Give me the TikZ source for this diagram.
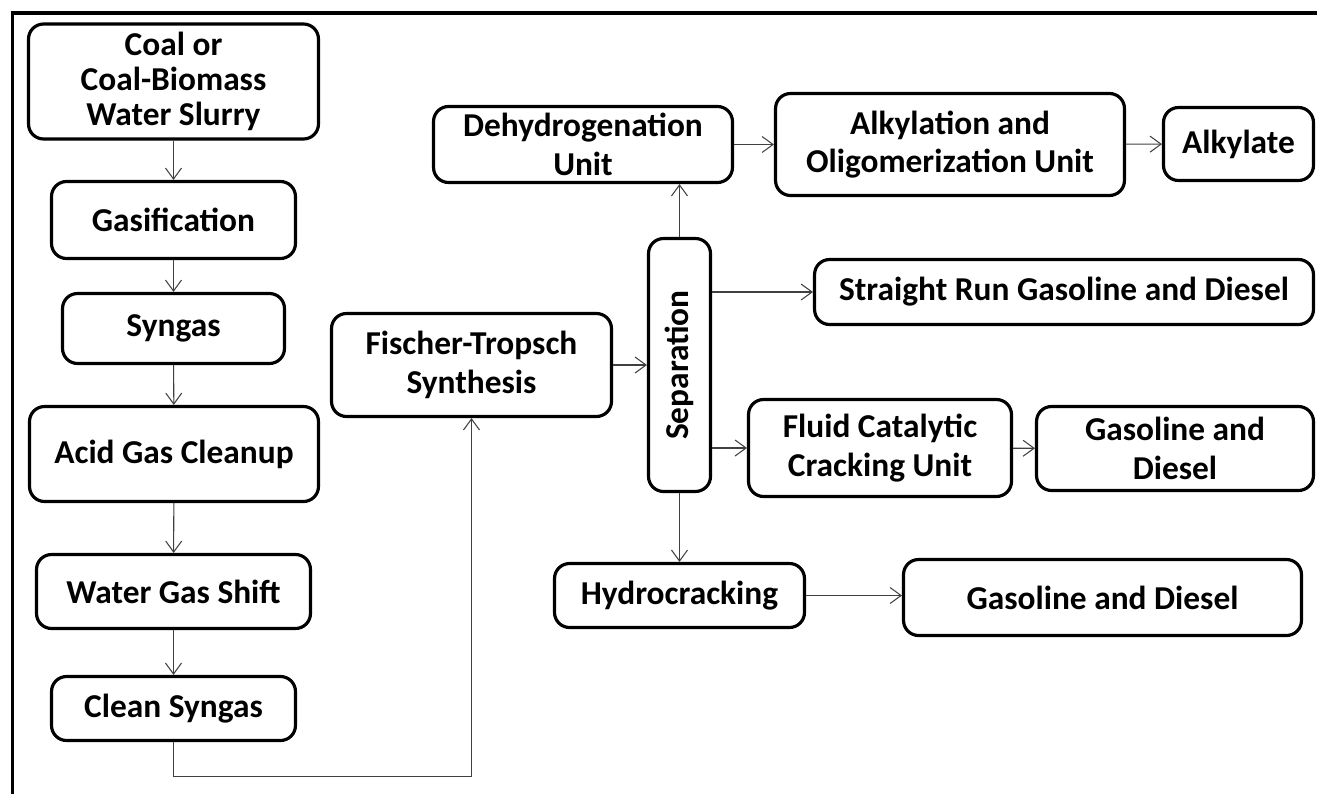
\documentclass[tikz,border=0pt]{standalone}
\usepackage{fontspec}
\setmainfont{Carlito}
\usetikzlibrary{arrows.meta}

\tikzset{
	box/.style={draw, line width=1.8pt, rounded corners=0.3cm, inner sep=0pt,
		align=center, font=\fontsize{19}{22}\selectfont\bfseries},
	flow/.style={->, line width=0.6pt, draw=black!75}
}

\begin{document}
\begin{tikzpicture}[>={Straight Barb[length=2.2mm,width=3.2mm]}, x=0.02cm, y=-0.02cm]
		\useasboundingbox (0,0) rectangle (1317,794);
		
		% Frame
		\draw[line width=2pt] (12.5,794) -- (12.5,13) -- (1317,13);
		
		% Nodes
		\node[box, minimum width=5.8cm, minimum height=2.3cm, font=\fontsize{19}{20}\selectfont\bfseries] (coal) at (173.5,81.5) {Coal or\\Coal-Biomass\\Water Slurry};
		\node[box, minimum width=4.88cm, minimum height=1.54cm] (gasif) at (173.5,220) {Gasification};
		\node[box, minimum width=4.44cm, minimum height=1.4cm] (syngas) at (173.5,328.5) {Syngas};
		\node[box, minimum width=5.78cm, minimum height=1.9cm] (acid) at (174,454) {Acid Gas Cleanup};
		\node[box, minimum width=5.48cm, minimum height=1.48cm] (wgs) at (173.5,591.5) {Water Gas Shift};
		\node[box, minimum width=4.88cm, minimum height=1.28cm] (clean) at (173.5,708.5) {Clean Syngas};
		
		\node[box, minimum width=5.6cm, minimum height=2.06cm] (ft) at (471.5,365) {Fischer-Tropsch\\Synthesis};
		\node[box, minimum width=1.24cm, minimum height=5.06cm] (sep) at (679.5,365) {\rotatebox{90}{Separation}};
		
		\node[box, minimum width=5.98cm, minimum height=1.52cm] (dehyd) at (583,144.5) {Dehydrogenation\\Unit};
		\node[box, minimum width=6.98cm, minimum height=2.04cm] (alky) at (950,144.5) {Alkylation and\\Oligomerization Unit};
		\node[box, minimum width=3.0cm, minimum height=1.46cm] (alkylate) at (1238.5,144) {Alkylate};
		
		\node[box, minimum width=9.98cm, minimum height=1.3cm] (srgd) at (1064,292) {Straight Run Gasoline and Diesel};
		
		\node[box, minimum width=5.26cm, minimum height=1.94cm] (fcc) at (880,448) {Fluid Catalytic\\Cracking Unit};
		\node[box, minimum width=5.54cm, minimum height=1.68cm] (gdfcc) at (1175,448.5) {Gasoline and\\Diesel};
		
		\node[box, minimum width=5.0cm, minimum height=1.28cm] (hydro) at (679.5,595.5) {Hydrocracking};
		\node[box, minimum width=7.96cm, minimum height=1.52cm] (gdhyd) at (1102.5,597.5) {Gasoline and Diesel};
		
		% Lines
		\draw[flow] (coal) -- (gasif);
		\draw[flow] (gasif) -- (syngas);
		\draw[flow] (syngas) -- (acid);
		\draw[flow] (acid) -- (wgs);
		\draw[flow] (wgs) -- (clean);
		\draw[flow] (clean.south) -- ++(0,34) -| (ft.south);
		
		\draw[flow] (ft) -- (sep);
		\draw[flow] (sep.north) -- (sep.north |- dehyd.south);
		\draw[flow] (dehyd.east |- alky.west) -- (alky.west);
		\draw[flow] (alky) -- (alkylate);
		\draw[flow] (sep.east |- srgd.west) -- (srgd.west);
		\draw[flow] (sep.east |- fcc.west) -- (fcc.west);
		\draw[flow] (fcc) -- (gdfcc);
		\draw[flow] (sep.south) -- (hydro.north);
		\draw[flow] (hydro.east) -- (hydro.east -| gdhyd.west);
		
	\end{tikzpicture}
\end{document}
